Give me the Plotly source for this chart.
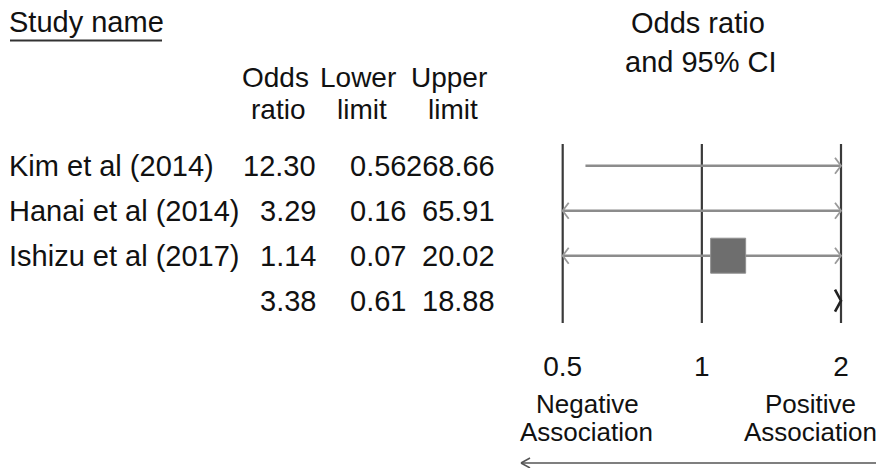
import math
import plotly.graph_objects as go

# ---- data ----
studies = ["Kim et al (2014)", "Hanai et al (2014)", "Ishizu et al (2017)", ""]
odds_ratio = [12.30, 3.29, 1.14, 3.38]
lower_limit = [0.56, 0.16, 0.07, 0.61]
upper_limit = [268.66, 65.91, 20.02, 18.88]
is_summary = [False, False, False, True]
tick_vals = [0.5, 1, 2]
tick_text = ["0.5", "1", "2"]

# ---- layout constants (pixels) ----
W, H = 876, 468
FONT = "Liberation Sans, Arial, sans-serif"
TXT = "#111111"
X_LO, X_HI = 0.5, 2.0          # chart scale limits
PX_LO, PX_HI = 562.7, 841.0    # pixel positions of limits
PAD_PX = 7
ROW0_PX, ROW_STEP = 165.7, 45.0
PLOT_BOTTOM_PX = 330

def px_x(x):
    return x / W

def px_y(y):
    return 1 - y / H

def row_of_px(y):
    return (y - ROW0_PX) / ROW_STEP

ppu = (PX_HI - PX_LO) / (math.log10(X_HI) - math.log10(X_LO))
pad = PAD_PX / ppu
xrange = [math.log10(X_LO) - pad, math.log10(X_HI) + pad]
xdomain = [px_x(PX_LO - PAD_PX), px_x(PX_HI + PAD_PX)]

fig = go.Figure()

# reference vertical lines
for v in tick_vals:
    fig.add_trace(go.Scatter(x=[v, v], y=[row_of_px(144), row_of_px(323)], mode="lines",
                             line=dict(color="#3a3a3a", width=2.2), hoverinfo="skip", showlegend=False))

# CI lines and arrows
arm_dx = 10 ** (6 / ppu)
arm_dy = 8 / ROW_STEP
for i, (o, lo, hi, summ) in enumerate(zip(odds_ratio, lower_limit, upper_limit, is_summary)):
    if not summ:
        a = max(lo, X_LO)
        b = min(hi, X_HI)
        fig.add_trace(go.Scatter(x=[a, b], y=[i, i], mode="lines",
                                 line=dict(color="#8c8c8c", width=2.4), hoverinfo="skip", showlegend=False))
        if hi > X_HI:
            fig.add_trace(go.Scatter(x=[X_HI / arm_dx, X_HI, X_HI / arm_dx], y=[i - arm_dy, i, i + arm_dy],
                                     mode="lines", line=dict(color="#9a9a9a", width=1.8),
                                     hoverinfo="skip", showlegend=False))
        if lo < X_LO:
            fig.add_trace(go.Scatter(x=[X_LO * arm_dx, X_LO, X_LO * arm_dx], y=[i - arm_dy, i, i + arm_dy],
                                     mode="lines", line=dict(color="#9a9a9a", width=1.8),
                                     hoverinfo="skip", showlegend=False))
        if X_LO <= o <= X_HI:
            fig.add_trace(go.Scatter(x=[o], y=[i], mode="markers",
                                     marker=dict(symbol="square", size=35, color="#6e6e6e",
                                                 line=dict(color="#909090", width=1)),
                                     hoverinfo="skip", showlegend=False))
    else:
        if o > X_HI:
            dy = 11 / ROW_STEP
            fig.add_trace(go.Scatter(x=[X_HI / arm_dx, X_HI, X_HI / arm_dx], y=[i - dy, i, i + dy],
                                     mode="lines", line=dict(color="#222222", width=2.6),
                                     hoverinfo="skip", showlegend=False))

ann = []
def add_text(text, x, y, xanchor="left", size=28, yref="paper"):
    ann.append(dict(text=text, x=x, y=y, xref="paper", yref=yref, xanchor=xanchor,
                    yanchor="middle", showarrow=False, font=dict(family=FONT, size=size, color=TXT)))

# header texts
add_text("Study name", px_x(7), px_y(22), "left", 29)
add_text("Odds", px_x(275), px_y(78), "center")
add_text("ratio", px_x(278), px_y(109), "center")
add_text("Lower", px_x(358), px_y(78), "center")
add_text("limit", px_x(362), px_y(109), "center")
add_text("Upper", px_x(449), px_y(78), "center")
add_text("limit", px_x(453), px_y(109), "center")
add_text("Odds ratio", px_x(698), px_y(23), "center", 29)
add_text("and 95% CI", px_x(701), px_y(62), "center", 29)

# table rows
for i, name in enumerate(studies):
    if name:
        add_text(name, px_x(7), i, "left", 29, "y")
    add_text(f"{odds_ratio[i]:.2f}", px_x(318), i, "right", 29, "y")
    add_text(f"{lower_limit[i]:.2f}", px_x(408), i, "right", 29, "y")
    add_text(f"{upper_limit[i]:.2f}", px_x(497), i, "right", 29, "y")

# association labels
add_text("Negative", px_x(587), px_y(404), "center", 26)
add_text("Association", px_x(586), px_y(432), "center", 26)
add_text("Positive", px_x(810), px_y(404), "center", 26)
add_text("Association", px_x(810), px_y(432), "center", 26)

shapes = [
    dict(type="line", xref="paper", yref="paper", x0=px_x(10), x1=px_x(162), y0=px_y(40.5), y1=px_y(40.5),
         line=dict(color="#333333", width=2)),
    dict(type="line", xref="paper", yref="paper", x0=px_x(521), x1=px_x(876), y0=px_y(463), y1=px_y(463),
         line=dict(color="#555555", width=1.5)),
    dict(type="line", xref="paper", yref="paper", x0=px_x(521), x1=px_x(530), y0=px_y(463), y1=px_y(458),
         line=dict(color="#555555", width=1.5)),
    dict(type="line", xref="paper", yref="paper", x0=px_x(521), x1=px_x(530), y0=px_y(463), y1=px_y(468),
         line=dict(color="#555555", width=1.5)),
]

fig.update_layout(
    width=W, height=H, autosize=False,
    margin=dict(l=0, r=0, t=0, b=0, pad=0, autoexpand=False),
    paper_bgcolor="white", plot_bgcolor="white",
    showlegend=False,
    annotations=ann, shapes=shapes,
    xaxis=dict(type="log", range=xrange, domain=xdomain, showgrid=False, zeroline=False,
               showline=False, ticks="", tickvals=tick_vals, ticktext=tick_text,
               tickfont=dict(family=FONT, size=28, color=TXT), ticklabelstandoff=17,
               fixedrange=True, automargin=False),
    yaxis=dict(range=[row_of_px(PLOT_BOTTOM_PX), row_of_px(0)], domain=[px_y(PLOT_BOTTOM_PX), 1],
               visible=False, fixedrange=True, automargin=False),
)

fig.write_html("out.html", config={"displayModeBar": False},
               post_script="document.body.style.margin='0';document.body.style.overflow='hidden';")
